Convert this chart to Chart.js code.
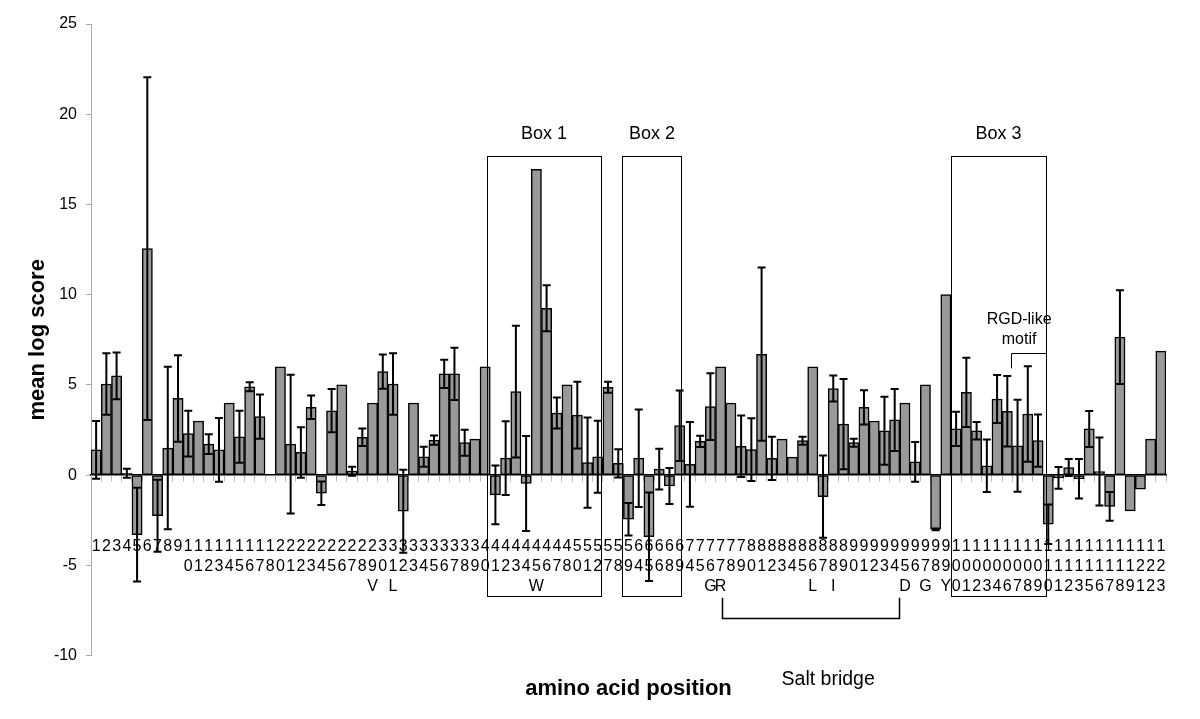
<!DOCTYPE html>
<html>
<head>
<meta charset="utf-8">
<title>mean log score per amino acid position</title>
<script src="https://cdn.jsdelivr.net/npm/chart.js@4/dist/chart.umd.min.js"></script>
<style>
  html, body { margin: 0; padding: 0; background: #ffffff; }
</style>
</head>
<body>
<canvas id="mainChart" width="1200" height="719"></canvas>
<script>
// amino acid positions shown on the x axis (19, 49, 53-56 ... are not in the data)
var positions = [1, 2, 3, 4, 5, 6, 7, 8, 9, 10, 11, 12, 13, 14, 15, 16, 17, 18,
  20, 21, 22, 23, 24, 25, 26, 27, 28, 29, 30, 31, 32, 33, 34, 35, 36, 37, 38, 39,
  40, 41, 42, 43, 44, 45, 46, 47, 48,
  50, 51, 52, 57, 58, 59, 64, 65, 66, 68, 69,
  74, 75, 76, 77, 78, 79, 80, 81, 82, 83, 84, 85, 86, 87, 88, 89,
  90, 91, 92, 93, 94, 95, 96, 97, 98, 99,
  100, 101, 102, 103, 104, 106, 107, 108, 109,
  110, 111, 112, 113, 115, 116, 117, 118, 119, 121, 122, 123];

// residue letters written under some positions
var residues = {29: 'V', 31: 'L', 45: 'W', 76: 'G', 77: 'R', 86: 'L', 88: 'I', 95: 'D', 97: 'G', 99: 'Y'};

// mean log score, one per position (null = no bar)
var meanScore = [1.4, 5.05, 5.5, 0.1, -3.3, 12.55, -2.25, 1.5, 4.25, 2.3, 3.0, 1.72, 1.4, 4.0, 2.13, 4.9, 3.24, null,
  6.0, 1.72, 1.26, 3.76, -1.0, 3.57, 5.0, 0.22, 2.1, 4.0, 5.74, 5.05, -2.0, 4.0, 1.02, 1.94, 5.61, 5.61, 1.8, 2.0,
  6.0, -1.09, 0.94, 4.63, -0.46, 16.95, 9.25, 3.44, 5.0,
  3.33, 0.7, 1.02, 4.87, 0.65, -2.44, 0.94, -3.41, 0.33, -0.6, 2.74,
  0.6, 1.87, 3.8, 6.0, 4.0, 1.6, 1.41, 6.7, 0.93, 2.0, 1.0, 1.91, 6.0, -1.19, 4.8, 2.83,
  1.8, 3.76, 3.0, 2.46, 3.06, 4.0, 0.74, 5.0, -3.0, 10.0,
  2.56, 4.59, 2.46, 0.52, 4.22, 3.54, 1.63, 3.39, 1.91,
  -2.72, -0.15, 0.42, -0.2, 2.56, 0.2, -1.73, 7.65, -1.98, -0.78, 2.0, 6.87];

// error bar half length (null = no error bar)
var errScore = [1.6, 1.7, 1.3, 0.25, 2.6, 9.5, 2.0, 4.5, 2.4, 1.27, null, 0.55, 1.77, null, 1.44, 0.25, 1.23, null,
  null, 3.85, 1.4, 0.65, 0.65, 1.2, null, 0.25, 0.48, null, 0.95, 1.7, 2.3, null, 0.55, 0.25, 0.78, 1.45, 0.72, null,
  null, 1.63, 2.04, 3.65, 2.63, null, 1.27, 0.86, null,
  1.85, 2.5, 2.0, 0.3, 0.78, 0.9, 2.7, 2.45, 1.13, 1.0, 1.95,
  2.35, 0.31, 1.85, null, null, 1.7, 1.74, 4.8, 1.2, null, null, 0.22, null, 2.28, 0.72, 2.5,
  0.22, 0.95, null, 1.88, 1.72, null, 1.1, null, 0.05, null,
  0.95, 1.92, 0.48, 1.46, 1.33, 1.95, 2.55, 2.65, 1.45,
  1.1, 0.6, 0.47, 1.1, 1.0, 1.88, 0.8, 2.6, null, null, null, null];

var yMin = -10, yMax = 25, yStep = 5;

// annotation spans, in category index / score units
var boxNames = ['Box 1', 'Box 2', 'Box 3'];
var boxSpans = [[38.2, 49.3], [51.4, 57.2], [83.5, 92.8]];

var fontFamily = "'Liberation Sans', Arial, Helvetica, sans-serif";
Chart.defaults.font.family = fontFamily;
Chart.defaults.color = '#000';

//Building the stacked labels: one digit per line, then the residue
var BottomLabel = positions.map(function (p) {
  var lines = String(p).split('');
  if (residues[p]) lines.push(residues[p]);
  return lines;
});

//Error bars
var errorBars = {
  id: 'errorBars',
  afterDatasetsDraw: function (chart) {
    var ctx = chart.ctx;
    var y = chart.scales.y;
    var meta = chart.getDatasetMeta(0);
    ctx.save();
    ctx.strokeStyle = '#000';
    ctx.lineWidth = 2;
    for (var i = 0; i < meanScore.length; i++) {
      if (meanScore[i] === null || errScore[i] === null) continue;
      var x = meta.data[i].x;
      var top = y.getPixelForValue(meanScore[i] + errScore[i]);
      var bot = y.getPixelForValue(meanScore[i] - errScore[i]);
      ctx.beginPath();
      ctx.moveTo(x, top); ctx.lineTo(x, bot);
      ctx.moveTo(x - 4, top); ctx.lineTo(x + 4, top);
      ctx.moveTo(x - 4, bot); ctx.lineTo(x + 4, bot);
      ctx.stroke();
    }
    ctx.restore();
  }
};

//Boxes, brackets and notes
var notes = {
  id: 'notes',
  afterDraw: function (chart) {
    var ctx = chart.ctx;
    var xs = chart.scales.x, ys = chart.scales.y;
    ctx.save();
    ctx.strokeStyle = '#000';
    ctx.fillStyle = '#000';
    ctx.lineWidth = 1;
    ctx.textAlign = 'center';
    ctx.textBaseline = 'middle';

    ctx.font = '18px ' + fontFamily;
    for (var b = 0; b < boxSpans.length; b++) {
      var x1 = xs.getPixelForValue(boxSpans[b][0]);
      var x2 = xs.getPixelForValue(boxSpans[b][1]);
      var y1 = ys.getPixelForValue(17.7);
      var y2 = ys.getPixelForValue(-6.7);
      ctx.strokeRect(Math.round(x1) + 0.5, Math.round(y1) + 0.5, Math.round(x2 - x1), Math.round(y2 - y1));
      ctx.fillText(boxNames[b], (x1 + x2) / 2, ys.getPixelForValue(18.9));
    }

    // RGD-like motif bracket
    var r1 = Math.round(xs.getPixelForValue(89.35)) + 0.5;
    var r2 = Math.round(xs.getPixelForValue(92.8)) + 0.5;
    var rTop = Math.round(ys.getPixelForValue(6.76)) + 0.5;
    var rEnd = ys.getPixelForValue(5.92);
    ctx.beginPath();
    ctx.moveTo(r1, rEnd); ctx.lineTo(r1, rTop); ctx.lineTo(r2, rTop); ctx.lineTo(r2, rEnd);
    ctx.stroke();
    ctx.font = '16px ' + fontFamily;
    ctx.fillText('RGD-like', xs.getPixelForValue(90.15), ys.getPixelForValue(8.64));
    ctx.fillText('motif', xs.getPixelForValue(90.15), ys.getPixelForValue(7.53));

    // salt bridge bracket
    var s1 = Math.round(xs.getPixelForValue(61.1)) + 0.5;
    var s2 = Math.round(xs.getPixelForValue(78.4)) + 0.5;
    var sTop = ys.getPixelForValue(-6.8);
    var sLine = Math.round(ys.getPixelForValue(-7.9)) + 0.5;
    ctx.lineWidth = 1.5;
    ctx.beginPath();
    ctx.moveTo(s1, sTop); ctx.lineTo(s1, sLine); ctx.lineTo(s2, sLine); ctx.lineTo(s2, sTop);
    ctx.stroke();
    ctx.font = '19.5px ' + fontFamily;
    ctx.fillText('Salt bridge', xs.getPixelForValue(71.5), ys.getPixelForValue(-11.35));
    ctx.restore();
  }
};

//Graphing
var ctx = document.getElementById('mainChart').getContext('2d');
var chart = new Chart(ctx, {
  type: 'bar',
  data: {
    labels: BottomLabel,
    datasets: [{
      label: 'mean log score',
      data: meanScore,
      backgroundColor: '#999999',
      borderColor: '#000000',
      borderWidth: 1.5,
      borderSkipped: false,
      barPercentage: 1.0,
      categoryPercentage: 1.0
    }]
  },
  options: {
    responsive: false,
    animation: false,
    devicePixelRatio: 1,
    layout: { padding: { left: 20, right: 34, top: 24, bottom: 0 } },
    plugins: {
      legend: { display: false },
      tooltip: { enabled: false },
      title: {
        display: true,
        text: 'amino acid position',
        position: 'bottom',
        fullSize: false,
        font: { size: 22, weight: 'bold' },
        padding: { top: 20, bottom: 17 }
      }
    },
    scales: {
      x: {
        position: { y: 0 },
        offset: true,
        grid: { display: true, drawOnChartArea: false, drawTicks: true, tickLength: 6, color: '#bbbbbb', offset: true },
        border: { display: true, color: '#000000', width: 1.5 },
        ticks: {
          autoSkip: false,
          maxRotation: 0,
          minRotation: 0,
          padding: 55,
          color: '#000',
          font: { size: 16, lineHeight: 1.25 }
        },
        // the labels sit inside the plot, so they need no side room
        afterFit: function (scale) {
          scale.paddingLeft = 0;
          scale.paddingRight = 0;
        }
      },
      y: {
        position: 'left',
        min: yMin,
        max: yMax,
        grid: { display: true, drawOnChartArea: false, drawTicks: true, tickLength: 5, color: '#aaaaaa' },
        border: { display: true, color: '#aaaaaa', width: 1 },
        ticks: { stepSize: yStep, padding: 9, color: '#000', font: { size: 16 } },
        title: {
          display: true,
          text: 'mean log score',
          font: { size: 22, weight: 'bold' },
          padding: { top: 5, bottom: 3 }
        },
        afterFit: function (scale) {
          scale.width = 71;
        }
      }
    }
  },
  plugins: [errorBars, notes]
});
//Graphing END
</script>
</body>
</html>
